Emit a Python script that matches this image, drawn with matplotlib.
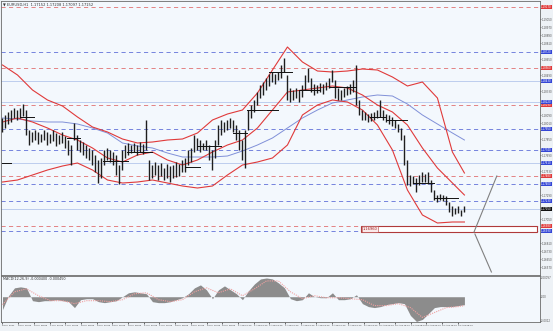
import matplotlib
matplotlib.use("Agg")
import matplotlib.pyplot as plt
import matplotlib.transforms as mtransforms
import numpy as np

# ---- price bars (H1, one entry per 3px column of the original)
highs = [1.1806, 1.1809, 1.1812, 1.1814, 1.1816, 1.1814, 1.1816, 1.1820, 1.1814, 1.1794,
         1.1792, 1.1794, 1.1792, 1.1790, 1.1794, 1.1792, 1.1790, 1.1794, 1.1791, 1.1789,
         1.1792, 1.1788, 1.1784, 1.1779, 1.1801, 1.1789, 1.1784, 1.1782, 1.1779, 1.1776,
         1.1774, 1.1769, 1.1764, 1.1766, 1.1774, 1.1776, 1.1774, 1.1772, 1.1769, 1.1759,
         1.1774, 1.1779, 1.1781, 1.1779, 1.1781, 1.1779, 1.1782, 1.1780, 1.1804, 1.1764,
         1.1759, 1.1762, 1.1759, 1.1761, 1.1756, 1.1760, 1.1758, 1.1759, 1.1762, 1.1760,
         1.1764, 1.1766, 1.1774, 1.1776, 1.1789, 1.1786, 1.1784, 1.1781, 1.1784, 1.1779,
         1.1774, 1.1784, 1.1799, 1.1804, 1.1802, 1.1804, 1.1806, 1.1804, 1.1799, 1.1794,
         1.1784, 1.1794, 1.1814, 1.1819, 1.1824, 1.1832, 1.1839, 1.1842, 1.1846, 1.1850,
         1.1852, 1.1850, 1.1852, 1.1859, 1.1866, 1.1849, 1.1836, 1.1834, 1.1836, 1.1834,
         1.1839, 1.1849, 1.1856, 1.1846, 1.1840, 1.1839, 1.1841, 1.1840, 1.1842, 1.1846,
         1.1854, 1.1844, 1.1836, 1.1834, 1.1836, 1.1838, 1.1840, 1.1844, 1.1859, 1.1824,
         1.1814, 1.1812, 1.1810, 1.1811, 1.1812, 1.1814, 1.1824, 1.1814, 1.1810, 1.1809,
         1.1807, 1.1804, 1.1800, 1.1796, 1.1789, 1.1764, 1.1749, 1.1748, 1.1746, 1.1749,
         1.1752, 1.1750, 1.1752, 1.1744, 1.1734, 1.1729, 1.1730, 1.1729, 1.1728, 1.1722,
         1.1718, 1.1716, 1.1718, 1.1714, 1.1718]
lows = [1.1792, 1.1796, 1.1800, 1.1802, 1.1806, 1.1804, 1.1806, 1.1808, 1.1789, 1.1779,
        1.1782, 1.1784, 1.1780, 1.1782, 1.1784, 1.1779, 1.1781, 1.1783, 1.1778, 1.1780,
        1.1781, 1.1776, 1.1769, 1.1759, 1.1784, 1.1774, 1.1772, 1.1769, 1.1766, 1.1764,
        1.1759, 1.1752, 1.1741, 1.1746, 1.1759, 1.1764, 1.1762, 1.1759, 1.1749, 1.1740,
        1.1754, 1.1766, 1.1769, 1.1771, 1.1772, 1.1769, 1.1772, 1.1770, 1.1774, 1.1744,
        1.1746, 1.1749, 1.1744, 1.1748, 1.1744, 1.1746, 1.1742, 1.1746, 1.1747, 1.1748,
        1.1752, 1.1752, 1.1759, 1.1762, 1.1772, 1.1774, 1.1772, 1.1774, 1.1774, 1.1764,
        1.1754, 1.1766, 1.1779, 1.1789, 1.1792, 1.1794, 1.1796, 1.1792, 1.1784, 1.1774,
        1.1764, 1.1756, 1.1794, 1.1806, 1.1812, 1.1819, 1.1826, 1.1829, 1.1834, 1.1838,
        1.1842, 1.1840, 1.1844, 1.1846, 1.1852, 1.1824, 1.1822, 1.1824, 1.1826, 1.1822,
        1.1827, 1.1834, 1.1842, 1.1832, 1.1829, 1.1831, 1.1832, 1.1830, 1.1834, 1.1836,
        1.1842, 1.1826, 1.1824, 1.1824, 1.1827, 1.1829, 1.1830, 1.1832, 1.1819, 1.1809,
        1.1804, 1.1804, 1.1802, 1.1803, 1.1804, 1.1806, 1.1807, 1.1804, 1.1802, 1.1800,
        1.1798, 1.1796, 1.1792, 1.1784, 1.1759, 1.1739, 1.1738, 1.1740, 1.1732, 1.1739,
        1.1742, 1.1742, 1.1740, 1.1732, 1.1724, 1.1722, 1.1724, 1.1723, 1.1719, 1.1712,
        1.1708, 1.1710, 1.1711, 1.1708, 1.1712]

# ---- bollinger bands + slow MA, sampled every 5 bars (last one = last bar)
band_upper = [1.1859, 1.1849, 1.1834, 1.1824, 1.1818, 1.1807, 1.1797, 1.1792, 1.1785, 1.1781,
              1.1782, 1.1784, 1.1785, 1.1791, 1.1804, 1.1810, 1.1814, 1.1831, 1.1854, 1.1877,
              1.1862, 1.1853, 1.1852, 1.1853, 1.1855, 1.1854, 1.1847, 1.1838, 1.1842, 1.1826,
              1.1772, 1.1751]
band_mid = [1.1802, 1.1806, 1.1802, 1.1796, 1.1789, 1.1784, 1.1776, 1.1766, 1.1762, 1.1769,
            1.1772, 1.1764, 1.1759, 1.1764, 1.1772, 1.1779, 1.1784, 1.1796, 1.1814, 1.1832,
            1.1834, 1.1836, 1.1838, 1.1836, 1.1829, 1.1819, 1.1812, 1.1799, 1.1776, 1.1756,
            1.1741, 1.1729]
band_lower = [1.1742, 1.1744, 1.1749, 1.1754, 1.1758, 1.1761, 1.1754, 1.1744, 1.1741, 1.1742,
              1.1744, 1.1741, 1.1738, 1.1736, 1.1738, 1.1749, 1.1759, 1.1762, 1.1766, 1.1779,
              1.1809, 1.1819, 1.1824, 1.1822, 1.1814, 1.1799, 1.1774, 1.1734, 1.1709, 1.1701,
              1.1702, 1.1702]
ma_slow = [1.1806, 1.1805, 1.1803, 1.1802, 1.1802, 1.1800, 1.1796, 1.1791, 1.1781, 1.1778,
           1.1776, 1.1771, 1.1767, 1.1767, 1.1767, 1.1768, 1.1773, 1.1779, 1.1786, 1.1796,
           1.1806, 1.1814, 1.1821, 1.1824, 1.1827, 1.1829, 1.1828, 1.1820, 1.1809, 1.1800,
           1.1791, 1.1784]

# ---- MACD(12,26,9): main every 2 bars, signal every 4 bars (+ last bar)
macd_main = [-0.00065, 0.00005, 0.00045, 0.0005, 0.00045, -0.0002, -0.00025, -0.0002, -0.0002, -0.00015,
             -0.0002, -0.00025, -0.00055, -0.00015, -0.0001, -0.0001, -0.00025, -0.0003, -0.00025, -0.0002,
             0.0, 0.0002, 0.00025, 0.0002, 0.00015, -0.00025, -0.0003, -0.0003, -0.00025, -0.00015,
             -0.00005, 0.00015, 0.00045, 0.0006, 0.00035, -0.0001, 0.00035, 0.00055, 0.00035, 0.00015,
             -0.00015, 0.0003, 0.00065, 0.0009, 0.00095, 0.0009, 0.0007, 0.00045, -0.0001, -0.0002,
             -0.00015, 0.0002, 0.0, -0.00005, -0.00005, 0.0002, -0.00015, -0.00015, -0.0001, 0.0001,
             -0.00035, -0.0005, -0.00055, -0.0005, -0.0004, -0.00035, -0.0003, -0.00035, -0.00095, -0.00125,
             -0.00115, -0.00085, -0.00055, -0.0005, -0.0005, -0.0005, -0.00045, -0.0004]
macd_signal = [-0.0004, 0.00025, 0.0004, 0.00005, -0.0002, -0.0002, -0.00035, -0.0002, -0.0002, -0.00025,
               -0.00015, 0.00015, 0.0002, -0.00015, -0.00025, -0.00015, 0.00025, 0.00045, 0.0002, 0.0004,
               0.00005, 0.0004, 0.0008, 0.0008, 0.00025, -0.0001, 0.00005, -0.00005, -0.00005, -0.0001,
               -0.00015, -0.00045, -0.00045, -0.00035, -0.00055, -0.00105, -0.0008, -0.00055, -0.0005, -0.00045]

# ---- horizontal levels drawn on the chart
red_levels = [1.1917, 1.1856, 1.1819, 1.1748, 1.1698]
blue_levels = [1.1872, 1.1795, 1.1774, 1.1740, 1.1723, 1.1693]
solid_levels = [1.1843, 1.1822, 1.1761]
last_price = 1.1715

# daily open segments: (first bar, last bar, price)
day_opens = [(0, 3, 1.1761), (6, 10.5, 1.1807), (21.5, 26, 1.1786), (33.5, 42, 1.1763),
             (41.5, 50, 1.1772), (61, 66, 1.1757), (65, 73, 1.1778), (77, 81.5, 1.1791),
             (81.5, 92, 1.1814), (89, 96.5, 1.1852), (99, 106, 1.1834), (109, 118, 1.1837),
             (122.5, 127.5, 1.1807), (128, 135, 1.1804), (137, 144, 1.1741), (144, 152, 1.1726)]

# support zone and projection lines
zone = (119.5, 178.2, 1.1692, 1.1698)
proj_up = ([157.2, 164.8], [1.1692, 1.1748])
proj_down = ([157.5, 163.0], [1.1690, 1.1652])

date_labels = ["19 Jul 2021", "19 Jul 16:00", "20 Jul 08:00", "21 Jul 00:00", "21 Jul 16:00",
               "22 Jul 08:00", "23 Jul 00:00", "23 Jul 16:00", "26 Jul 08:00", "27 Jul 00:00",
               "27 Jul 16:00", "28 Jul 08:00", "29 Jul 00:00", "29 Jul 16:00", "30 Jul 08:00",
               "2 Aug 00:00", "2 Aug 16:00", "3 Aug 08:00", "4 Aug 00:00", "4 Aug 16:00",
               "5 Aug 08:00", "6 Aug 00:00", "6 Aug 16:00", "9 Aug 08:00", "10 Aug 00:00",
               "10 Aug 16:00", "11 Aug 08:00", "12 Aug 00:00", "12 Aug 16:00", "13 Aug 08:00"]

title = "EURUSD,H1  1.17152 1.17208 1.17097 1.17152"
macd_title = "MACD(12,26,9) -0.000400 -0.000450"

BG = "#f3f8fd"
RED = "#e03a3a"
BLUE = "#3446d6"
SCALE_FS = 1.9

fig = plt.figure(figsize=(5.53, 3.31), dpi=100, facecolor="#eef2f6")
ax = fig.add_axes([1 / 553, 1 - 275 / 331, 539 / 553, 274 / 331], facecolor=BG)
ax2 = fig.add_axes([1 / 553, 1 - 322 / 331, 539 / 553, 46 / 331], facecolor=BG)

x = np.arange(len(highs))
band_x = list(range(0, 151, 5)) + [len(highs) - 1]

# levels
for p in red_levels:
    ax.axhline(p, color="#e07070", lw=0.6, ls=(0, (5, 4)), zorder=1)
for p in blue_levels:
    ax.axhline(p, color="#6070d8", lw=0.6, ls=(0, (5, 4)), zorder=1)
for p in solid_levels + [last_price]:
    ax.axhline(p, color="#b4c6ec", lw=0.6, zorder=1)

ax.add_patch(plt.Rectangle((zone[0], zone[2]), zone[1] - zone[0], zone[3] - zone[2],
                           facecolor="white", edgecolor="#b03a3a", lw=0.8, zorder=2))
ax.text(zone[0] + 0.6, (zone[2] + zone[3]) / 2, "1.16960", fontsize=2.6, color="#a02020",
        va="center", ha="left", zorder=3,
        bbox=dict(boxstyle="square,pad=0.15", fc="#fbe9e9", ec="#b03a3a", lw=0.4))

ax.plot(band_x, ma_slow, color="#8090d8", lw=0.7, zorder=3)
ax.plot(band_x, band_upper, color=RED, lw=0.8, zorder=3)
ax.plot(band_x, band_mid, color=RED, lw=0.8, zorder=3)
ax.plot(band_x, band_lower, color=RED, lw=0.8, zorder=3)

ax.vlines(x, lows, highs, color="#1e1e1e", lw=1.0, zorder=4)
for a, b, p in day_opens:
    ax.plot([a, b], [p, p], color="#111111", lw=0.7, zorder=4)

ax.plot(*proj_up, color="#808080", lw=0.8, zorder=4)
ax.plot(*proj_down, color="#808080", lw=0.8, zorder=4)

ax.set_xlim(-0.5, 179.2)
ax.set_ylim(1.1649, 1.1923)
ax.set_xticks([])
ax.yaxis.tick_right()

# coloured price tags on the right scale
tags = [(p, RED) for p in red_levels] + [(p, BLUE) for p in blue_levels + solid_levels]
tags.append((last_price, "#111111"))

# plain scale ticks, skipping the ones hidden under a tag
ticks = [t for t in np.arange(1.1657, 1.1922, 0.0008)
         if min(abs(t - p) for p, c in tags) > 0.00045]
ax.set_yticks(ticks)
ax.set_yticklabels(["%.5f" % t for t in ticks])
ax.tick_params(axis="y", labelsize=SCALE_FS, labelcolor="#555555", length=0.6, width=0.4, pad=0.3)
ax.text(0.004, 0.993, "\u25bc " + title, transform=ax.transAxes, fontsize=2.6,
        color="#333333", va="top", ha="left")

tag = mtransforms.blended_transform_factory(ax.transAxes, ax.transData)
for p, c in tags:
    ax.text(1.0022, p, "%.5f" % p, transform=tag, fontsize=SCALE_FS, color="white", va="center",
            ha="left", zorder=6, clip_on=False,
            bbox=dict(boxstyle="square,pad=0.1", fc=c, ec="none"))

# MACD panel
mx = np.arange(0, len(highs), 2)
sx = list(range(0, 153, 4)) + [len(highs) - 1]
ax2.fill_between(mx, 0, macd_main, color="#8c8c8c", lw=0, zorder=2)
ax2.plot(sx, macd_signal, color="#f0a0a0", lw=0.8, ls=(0, (1, 1)), zorder=3)
ax2.set_xlim(-0.5, 179.2)
ax2.set_ylim(-0.00128, 0.00105)
ax2.yaxis.tick_right()
ax2.set_yticks([0.00097, 0.0, -0.00122])
ax2.set_yticklabels(["0.00097", "0.00", "-0.0012"])
ax2.tick_params(axis="y", labelsize=SCALE_FS, labelcolor="#555555", length=0.6, width=0.4, pad=0.3)
ax2.text(0.004, 0.97, macd_title, transform=ax2.transAxes, fontsize=2.4,
         color="#333333", va="top", ha="left")

label_pos = np.arange(len(date_labels)) * 15.7 / 3
ax2.set_xticks(label_pos)
ax2.set_xticklabels(date_labels, ha="left")
ax2.tick_params(axis="x", labelsize=1.6, labelcolor="#333333", length=1.2, width=0.4, pad=0.8)

for a in (ax, ax2):
    for s in a.spines.values():
        s.set_color("#6a6a6a")
        s.set_linewidth(0.6)

plt.savefig("out.png", dpi=100, facecolor=fig.get_facecolor())
plt.close()
